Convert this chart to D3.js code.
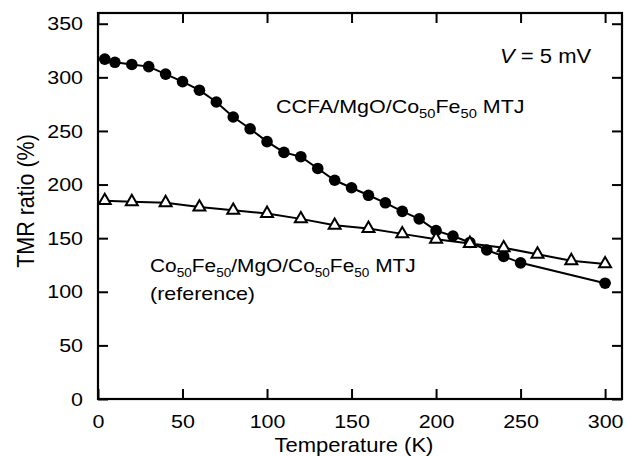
<!DOCTYPE html>
<html>
<head>
<meta charset="utf-8">
<script src="https://cdn.jsdelivr.net/npm/d3@7/dist/d3.min.js"></script>
<style>
  html, body { margin: 0; padding: 0; background: #fff; }
  svg { display: block; }
  text { font-family: "Liberation Sans", Arial, Helvetica, sans-serif; fill: #000; }
</style>
</head>
<body>
<svg id="chart" width="634" height="456"></svg>
<script>
// ---- data ----
const tempCCFA = [4, 10, 20, 30, 40, 50, 60, 70, 80, 90, 100, 110, 120, 130, 140, 150, 160, 170, 180, 190, 200, 210, 220, 230, 240, 250, 300];
const tmrCCFA  = [317, 314, 312, 310, 303, 296, 288, 277, 263, 252, 240, 230, 226, 215, 204, 197, 190, 183, 175, 168, 157, 152, 146, 139, 133, 127, 108];
const tempRef  = [4, 20, 40, 60, 80, 100, 120, 140, 160, 180, 200, 220, 240, 260, 280, 300];
const tmrRef   = [185, 184, 183, 179, 176, 173, 168, 162, 159, 154, 149, 145, 141, 135, 129, 126];
const xTicks = [0, 50, 100, 150, 200, 250, 300];
const yTicks = [0, 50, 100, 150, 200, 250, 300, 350];
const xDomain = [0, 310];
const yDomain = [0, 360];

const svg = d3.select("#chart");
const L = 98, R = 622, T = 13, B = 399;
const x = d3.scaleLinear().domain(xDomain).range([L, R]);
const y = d3.scaleLinear().domain(yDomain).range([B, T]);
const tickLen = 10;
const SX = 1.13; // horizontal stretch of glyphs

function stretch(sel, sx) {
  sel.each(function () {
    const t = d3.select(this);
    const xx = +t.attr("x") || 0;
    t.attr("transform", `translate(${xx * (1 - sx)},0) scale(${sx},1)`);
  });
}

// axes (ticks inward)
const gB = svg.append("g").attr("transform", `translate(0,${B})`)
  .call(d3.axisBottom(x).tickValues(xTicks).tickSizeInner(-tickLen).tickSizeOuter(0).tickPadding(tickLen + 6));
const gL = svg.append("g").attr("transform", `translate(${L},0)`)
  .call(d3.axisLeft(y).tickValues(yTicks).tickSizeInner(-tickLen).tickSizeOuter(0).tickPadding(tickLen + 5));
const gT = svg.append("g").attr("transform", `translate(0,${T})`)
  .call(d3.axisTop(x).tickValues(xTicks).tickSizeInner(-tickLen).tickSizeOuter(0).tickFormat(""));
const gR = svg.append("g").attr("transform", `translate(${R},0)`)
  .call(d3.axisRight(y).tickValues(yTicks).tickSizeInner(-tickLen).tickSizeOuter(0).tickFormat(""));
[gB, gL, gT, gR].forEach(g => {
  g.select(".domain").remove();
  g.selectAll(".tick line").attr("stroke", "#000").attr("stroke-width", 2);
  g.selectAll(".tick text").style("font-size", "19px").attr("fill", "#000");
});
gB.selectAll(".tick text").attr("dy", "0.71em");
stretch(gB.selectAll(".tick text"), SX);
stretch(gL.selectAll(".tick text"), SX);

// frame
svg.append("rect").attr("x", L).attr("y", T).attr("width", R - L).attr("height", B - T)
  .attr("fill", "none").attr("stroke", "#000").attr("stroke-width", 2.2);

// lines
const lineCCFA = d3.line().x((d, i) => x(tempCCFA[i])).y(d => y(d));
svg.append("path").datum(tmrCCFA).attr("d", lineCCFA)
  .attr("fill", "none").attr("stroke", "#000").attr("stroke-width", 2);
const lineRef = d3.line().x((d, i) => x(tempRef[i])).y(d => y(d));
svg.append("path").datum(tmrRef).attr("d", lineRef)
  .attr("fill", "none").attr("stroke", "#000").attr("stroke-width", 2);

// markers
svg.append("g").selectAll("circle").data(tmrCCFA).join("circle")
  .attr("cx", (d, i) => x(tempCCFA[i])).attr("cy", d => y(d)).attr("r", 5.8).attr("fill", "#000");
const tri = d3.symbol().type(d3.symbolTriangle).size(62);
svg.append("g").selectAll("path").data(tmrRef).join("path")
  .attr("d", tri).attr("transform", (d, i) => `translate(${x(tempRef[i])},${y(d)})`)
  .attr("fill", "#fff").attr("stroke", "#000").attr("stroke-width", 2);

// axis titles
const xt = svg.append("text").attr("x", 354).attr("y", 452).attr("text-anchor", "middle")
  .attr("fill", "#000").style("font-size", "20px").text("Temperature (K)");
stretch(xt, 1.1);
svg.append("text").attr("transform", "translate(34,201) rotate(-90) scale(1,1.1)").attr("text-anchor", "middle")
  .attr("fill", "#000").style("font-size", "21.5px").text("TMR ratio (%)");

// annotations
const v = svg.append("text").attr("x", 500).attr("y", 63).style("font-size", "19.5px");
v.append("tspan").style("font-style", "italic").text("V");
v.append("tspan").text(" = 5 mV");
stretch(v, SX);

function subLabel(xp, yp, fs, ss, parts) {
  const t = svg.append("text").attr("x", xp).attr("y", yp).style("font-size", fs + "px");
  parts.forEach(p => {
    if (p.sub) t.append("tspan").attr("dy", 5).style("font-size", ss + "px").text(p.s);
    else t.append("tspan").attr("dy", p.after ? -5 : 0).text(p.s);
  });
  stretch(t, SX);
}
subLabel(276, 113, 19, 13, [{s: "CCFA/MgO/Co"}, {s: "50", sub: true}, {s: "Fe", after: true}, {s: "50", sub: true}, {s: " MTJ", after: true}]);
subLabel(150, 272, 18.5, 12, [{s: "Co"}, {s: "50", sub: true}, {s: "Fe", after: true}, {s: "50", sub: true}, {s: "/MgO/Co", after: true}, {s: "50", sub: true}, {s: "Fe", after: true}, {s: "50", sub: true}, {s: " MTJ", after: true}]);
stretch(svg.append("text").attr("x", 150).attr("y", 300).style("font-size", "19px").text("(reference)"), SX);
</script>
</body>
</html>
